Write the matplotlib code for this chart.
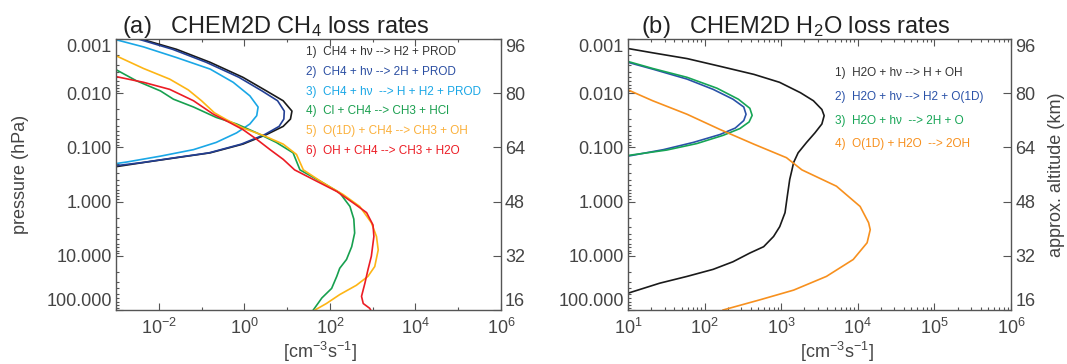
import numpy as np
import matplotlib
matplotlib.use('Agg')
import matplotlib.pyplot as plt
from matplotlib.ticker import FixedLocator, LogLocator, NullFormatter, NullLocator

plt.rcParams['font.family'] = ['Liberation Sans', 'DejaVu Sans']
plt.rcParams['mathtext.fontset'] = 'custom'
plt.rcParams['mathtext.rm'] = 'Liberation Sans'
plt.rcParams['mathtext.it'] = 'Liberation Sans:italic'
plt.rcParams['mathtext.bf'] = 'Liberation Sans:bold'

# ---- panel (a): CH4 loss rates [cm-3 s-1] vs pressure [hPa]
p_ch4_h2 = [9.3e-4, 1.55e-3, 2.7e-3, 5.1e-3, 9.1e-3, 0.0138, 0.0214, 0.030, 0.041,
            0.058, 0.087, 0.126, 0.155, 0.19, 0.23]
r_ch4_h2 = [2.8e-3, 0.026, 0.16, 0.93, 3.3, 8.1, 13, 12, 8.1, 3.3, 0.93, 0.16, 0.026,
            4.4e-3, 9.0e-4]
p_ch4_2h = [9.3e-4, 1.55e-3, 2.7e-3, 5.1e-3, 9.1e-3, 0.0138, 0.0214, 0.030, 0.041,
            0.058, 0.087, 0.126, 0.155, 0.19, 0.22]
r_ch4_2h = [2.4e-3, 0.021, 0.13, 0.75, 2.6, 6.0, 8.6, 8.4, 6.5, 3.0, 0.85, 0.15, 0.024,
            4.2e-3, 9.0e-4]
p_ch4_hh2 = [1.02e-3, 1.4e-3, 2.2e-3, 3.6e-3, 6.3e-3, 0.0112, 0.018, 0.026, 0.037,
             0.054, 0.081, 0.11, 0.145, 0.186, 0.2]
r_ch4_hh2 = [9.5e-4, 4.4e-3, 0.026, 0.16, 0.55, 1.35, 2.1, 1.95, 1.35, 0.66, 0.22,
             0.065, 0.011, 1.8e-3, 9.5e-4]
p_cl = [3.6e-3, 5.9e-3, 9.1e-3, 0.0129, 0.018, 0.028, 0.037, 0.054, 0.081, 0.126,
        0.26, 0.45, 0.69, 1.23, 2.1, 3.8, 6.8, 11.7, 17, 24, 40, 60, 100]
r_cl = [9.5e-4, 3.0e-3, 0.011, 0.022, 0.065, 0.22, 0.66, 1.95, 5.6, 13.8, 20, 69, 170,
        295, 363, 380, 324, 245, 170, 145, 110, 65, 41]
p_o1d = [2.0e-3, 3.5e-3, 5.5e-3, 8.7e-3, 0.0138, 0.023, 0.031, 0.044, 0.060, 0.087,
         0.135, 0.26, 0.45, 0.74, 1.23, 2.45, 4.4, 7.8, 15.8, 24, 35, 52, 76, 100]
r_o1d = [9.5e-4, 4.4e-3, 0.018, 0.049, 0.10, 0.20, 0.39, 0.93, 2.75, 8.1, 16.6, 24, 69,
         204, 500, 933, 1230, 1350, 1120, 776, 417, 170, 83, 45]
p_oh = [4.9e-3, 6.3e-3, 8.5e-3, 0.0138, 0.0245, 0.035, 0.047, 0.071, 0.11, 0.166, 0.26,
        0.42, 0.65, 1.05, 1.6, 2.7, 4.4, 10.2, 18.2, 32, 56, 76, 93, 100]
r_oh = [9.5e-4, 4.4e-3, 0.018, 0.065, 0.19, 0.46, 0.93, 1.95, 4.0, 8.1, 15, 49, 145, 347,
        724, 1020, 1070, 933, 776, 660, 550, 603, 851, 900]

labels_a = ['1)  CH4 + h\u03bd --> H2 + PROD', '2)  CH4 + h\u03bd --> 2H + PROD',
            '3)  CH4 + h\u03bd  --> H + H2 + PROD', '4)  Cl + CH4 --> CH3 + HCl',
            '5)  O(1D) + CH4 --> CH3 + OH', '6)  OH + CH4 --> CH3 + H2O']

# ---- panel (b): H2O loss rates
p_h2o_h = [1.5e-3, 1.8e-3, 2.3e-3, 3.2e-3, 4.5e-3, 6.3e-3, 9.8e-3, 0.0138, 0.020, 0.026,
           0.037, 0.054, 0.081, 0.126, 0.19, 0.26, 0.39, 0.79, 1.6, 2.9, 4.4, 6.8, 8.9,
           12.9, 17.8, 24, 32, 49]
r_h2o_h = [10, 21, 59, 160, 440, 950, 1780, 2630, 3390, 3630, 3390, 2750, 2140, 1660,
           1450, 1380, 1290, 1200, 1120, 955, 794, 589, 389, 234, 129, 59, 26, 10]
p_h2o_h2 = [2.7e-3, 3.6e-3, 5.5e-3, 8.5e-3, 0.0129, 0.018, 0.0245, 0.032, 0.044, 0.058,
            0.081, 0.11, 0.145]
r_h2o_h2 = [10, 21, 59, 129, 234, 324, 347, 324, 251, 158, 71, 29, 10]
p_h2o_2h = [2.6e-3, 3.5e-3, 5.1e-3, 8.1e-3, 0.0129, 0.019, 0.0257, 0.034, 0.045, 0.060,
            0.085, 0.112, 0.141]
r_h2o_2h = [10, 21, 59, 145, 275, 389, 417, 380, 288, 174, 79, 32, 10]
p_h2o_o1d = [8.7e-3, 0.0138, 0.0245, 0.047, 0.087, 0.155, 0.26, 0.52, 1.23, 2.45, 3.3,
             5.75, 11.7, 24, 43, 65, 100]
r_h2o_o1d = [10, 21, 59, 160, 437, 1170, 1860, 5250, 10700, 13800, 14500, 13200, 8700,
             3890, 1450, 525, 174]

labels_b = ['1)  H2O + h\u03bd --> H + OH', '2)  H2O + h\u03bd --> H2 + O(1D)',
            '3)  H2O + h\u03bd  --> 2H + O', '4)  O(1D) + H2O  --> 2OH']

p_ticks = [0.001, 0.01, 0.1, 1, 10, 100]
p_tick_labels = ['0.001', '0.010', '0.100', '1.000', '10.000', '100.000']
alt_labels = ['96', '80', '64', '48', '32', '16']

gray = '#555555'
txt = '#444444'


def style(ax, xlim, xmajor, xminor):
    ax.set_xscale('log')
    ax.set_yscale('log')
    ax.set_xlim(*xlim)
    ax.set_ylim(100, 0.001)
    ax.xaxis.set_major_locator(FixedLocator(xmajor))
    if xminor is None:
        ax.xaxis.set_minor_locator(LogLocator(base=10, subs=np.arange(2, 10)))
    else:
        ax.xaxis.set_minor_locator(FixedLocator(xminor))
    ax.xaxis.set_minor_formatter(NullFormatter())
    ax.set_yticks(p_ticks)
    ax.set_yticklabels(p_tick_labels)
    ax.yaxis.set_minor_locator(LogLocator(base=10, subs=np.arange(2, 10)))
    ax.yaxis.set_minor_formatter(NullFormatter())
    ax.tick_params(which='both', direction='in', top=True, right=False,
                   color=gray, width=0.8, labelcolor=txt, labelsize=13)
    ax.tick_params(which='major', length=5)
    ax.tick_params(which='minor', length=2.5)
    ax.tick_params(axis='x', pad=6)
    ax.tick_params(axis='y', pad=3)
    for s in ax.spines.values():
        s.set_color(gray)
        s.set_linewidth(1.0)
    labs = ax.get_yticklabels()
    labs[0].set_va('top')
    labs[-1].set_va('bottom')

    ax2 = ax.twinx()
    ax2.set_yscale('log')
    ax2.set_ylim(100, 0.001)
    ax2.set_yticks(p_ticks)
    ax2.set_yticklabels(alt_labels)
    ax2.yaxis.set_minor_locator(NullLocator())
    ax2.tick_params(direction='in', length=6, color=gray, width=0.8,
                    labelcolor=txt, labelsize=13, pad=3)
    for s in ax2.spines.values():
        s.set_visible(False)
    labs = ax2.get_yticklabels()
    labs[0].set_va('top')
    labs[-1].set_va('bottom')
    return ax2


fig = plt.figure(figsize=(10.67, 3.64), dpi=100)
ax_a = fig.add_axes([0.1087, 0.1484, 0.3608, 0.7445])
ax_b = fig.add_axes([0.5886, 0.1484, 0.3590, 0.7445])

lw = 1.2
cols_a = ['#1a1a1a', '#233f94', '#1aa7e6', '#17a04f', '#fdb515', '#ec1c24']
curves_a = [(r_ch4_h2, p_ch4_h2), (r_ch4_2h, p_ch4_2h), (r_ch4_hh2, p_ch4_hh2),
            (r_cl, p_cl), (r_o1d, p_o1d), (r_oh, p_oh)]
for (r, p), c in zip(curves_a, cols_a):
    ax_a.plot(r, p, color=c, lw=lw)
style(ax_a, (1e-3, 1e6), [1e-2, 1e0, 1e2, 1e4, 1e6], [1e-3, 1e-1, 1e1, 1e3, 1e5])

cols_b = ['#1a1a1a', '#2a52a8', '#17a556', '#f7901e']
curves_b = [(r_h2o_h, p_h2o_h), (r_h2o_h2, p_h2o_h2), (r_h2o_2h, p_h2o_2h),
            (r_h2o_o1d, p_h2o_o1d)]
for (r, p), c in zip(curves_b, cols_b):
    ax_b.plot(r, p, color=c, lw=lw)
style(ax_b, (10, 1e6), [1e1, 1e2, 1e3, 1e4, 1e5, 1e6], None)

# legend-like texts
text_cols_a = ['#333333', '#2b4ea2', '#1aa7e6', '#1a9f4f', '#fbb03b', '#ec1c24']
for i, (s, c) in enumerate(zip(labels_a, text_cols_a)):
    ax_a.text(0.4935, 0.951 - i * 0.0727, s, color=c, fontsize=8.5,
              va='center', ha='left', transform=ax_a.transAxes)
text_cols_b = ['#333333', '#2a52a8', '#17a556', '#f7901e']
for i, (s, c) in enumerate(zip(labels_b, text_cols_b)):
    ax_b.text(0.5405, 0.873 - i * 0.0871, s, color=c, fontsize=8.5,
              va='center', ha='left', transform=ax_b.transAxes)

fig.text(0.1143, 0.910, '(a)   CHEM2D CH$_4$ loss rates', fontsize=17,
         color='#222222', va='baseline')
fig.text(0.6007, 0.910, '(b)   CHEM2D H$_2$O loss rates', fontsize=17,
         color='#222222', va='baseline')
fig.text(0.019, 0.5206, 'pressure (hPa)', rotation=90, va='center', ha='center',
         fontsize=13, color=txt)
fig.text(0.990, 0.5206, 'approx. altitude (km)', rotation=90, va='center',
         ha='center', fontsize=13, color=txt)
fig.text(320 / 1067, 0.033, '[cm$^{-3}$s$^{-1}$]', ha='center', va='center',
         fontsize=13, color=txt)
fig.text(837 / 1067, 0.033, '[cm$^{-3}$s$^{-1}$]', ha='center', va='center',
         fontsize=13, color=txt)

fig.savefig('out.png', dpi=100)
